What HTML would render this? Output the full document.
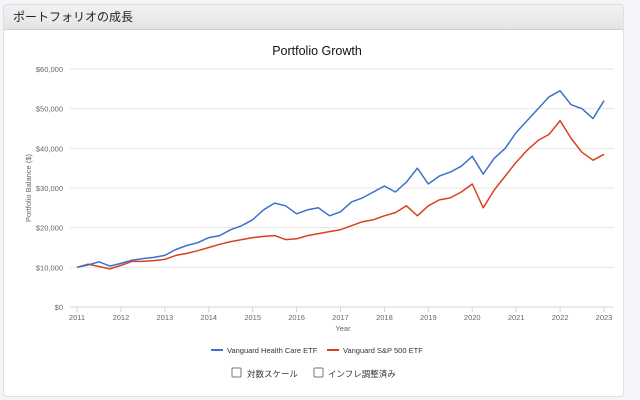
<!DOCTYPE html>
<html><head><meta charset="utf-8"><style>
body{margin:0;background:#f3f5f8;font-family:"Liberation Sans","Noto Sans CJK JP",sans-serif;}
#panel{position:absolute;left:3px;top:4px;width:619px;height:391px;background:#fff;border:1px solid #dcdfe3;border-radius:4px;overflow:hidden}
#hdr{height:24px;background:linear-gradient(#f2f2f2,#e4e4e4);border-bottom:1px solid #cfcfcf;font-size:12px;line-height:24px;padding-left:9px;color:#222}
svg{position:absolute;left:0;top:0}
</style></head><body>
<div id="panel">
<div id="hdr">ポートフォリオの成長</div>
</div>
<svg id="chart" width="640" height="400" font-family="Liberation Sans, Noto Sans CJK JP, sans-serif"></svg>
<script>
const dates=[];for(let i=0;i<=48;i++)dates.push(2011+i/4);
const healthCare=[10000,10600,11400,10300,11000,11800,12200,12500,13000,14500,15500,16200,17500,18000,19500,20500,22000,24500,26200,25500,23500,24500,25000,23000,24000,26500,27500,29000,30500,29000,31500,35000,31000,33000,34000,35500,38000,33500,37500,40000,44000,47000,50000,53000,54500,51000,50000,47500,52000];
const sp500=[10000,10800,10200,9600,10500,11500,11500,11700,12000,13000,13500,14200,15000,15800,16500,17000,17500,17800,18000,17000,17200,18000,18500,19000,19500,20500,21500,22000,23000,23800,25500,23000,25500,27000,27500,29000,31000,25000,29500,33000,36500,39500,42000,43500,47000,42500,39000,37000,38500];
const yTicks=[0,10000,20000,30000,40000,50000,60000];
const yTickLabels=["$0","$10,000","$20,000","$30,000","$40,000","$50,000","$60,000"];
const xTicks=[2011,2012,2013,2014,2015,2016,2017,2018,2019,2020,2021,2022,2023];
const NS="http://www.w3.org/2000/svg";const svg=document.getElementById('chart');
const X=v=>77+(v-2011)*(604-77)/12;const Y=v=>307-v*(307-69)/60000;
function mk(t,a,txt){const e=document.createElementNS(NS,t);for(const k in a)e.setAttribute(k,a[k]);if(txt!==undefined)e.textContent=txt;svg.appendChild(e);return e;}
let e=mk('text',{x:317,y:55,'text-anchor':'middle','font-size':12.5,fill:'#111'},'Portfolio Growth');

yTicks.forEach((v,i)=>{let g=mk('line',{x1:70,x2:614,y1:Y(v),y2:Y(v),stroke:v===0?'#ccd6eb':'#e6e6e6'});

let t=mk('text',{x:63,y:Y(v)+3,'text-anchor':'end','font-size':7.5,fill:'#666'},yTickLabels[i]);
});
xTicks.forEach(v=>{let l=mk('line',{x1:X(v),x2:X(v),y1:307,y2:312,stroke:'#ccd6eb'});
let t=mk('text',{x:X(v),y:320,'text-anchor':'middle','font-size':7.5,fill:'#666'},String(v));});
e=mk('text',{x:343,y:331,'text-anchor':'middle','font-size':7.5,fill:'#666'},'Year');
e=mk('text',{x:0,y:0,'text-anchor':'middle','font-size':7.5,fill:'#666',transform:'translate(31,188) rotate(-90)'},'Portfolio Balance ($)');
function line(vals,col,name){const d=vals.map((v,i)=>(i?'L':'M')+X(dates[i]).toFixed(1)+','+Y(v).toFixed(1)).join('');
const p=mk('path',{d:d,fill:'none',stroke:col,'stroke-width':1.5,'stroke-linejoin':'round'});}
line(sp500,'#d9411e','sp500-line');line(healthCare,'#3d6fcc','health-care-line');
e=mk('line',{x1:211,x2:223,y1:350,y2:350,stroke:'#3d6fcc','stroke-width':2});
e=mk('text',{x:227,y:353,'font-size':7.5,fill:'#333'},'Vanguard Health Care ETF');
e=mk('line',{x1:327,x2:339,y1:350,y2:350,stroke:'#d9411e','stroke-width':2});
e=mk('text',{x:343,y:353,'font-size':7.5,fill:'#333'},'Vanguard S&P 500 ETF');
e=mk('rect',{x:232,y:368,width:9,height:9,fill:'#fff',stroke:'#777',rx:1});
e=mk('text',{x:247,y:377,'font-size':8.5,fill:'#333'},'対数スケール');
e=mk('rect',{x:314,y:368,width:9,height:9,fill:'#fff',stroke:'#777',rx:1});
e=mk('text',{x:328,y:377,'font-size':8.5,fill:'#333'},'インフレ調整済み');
</script>
</body></html>
